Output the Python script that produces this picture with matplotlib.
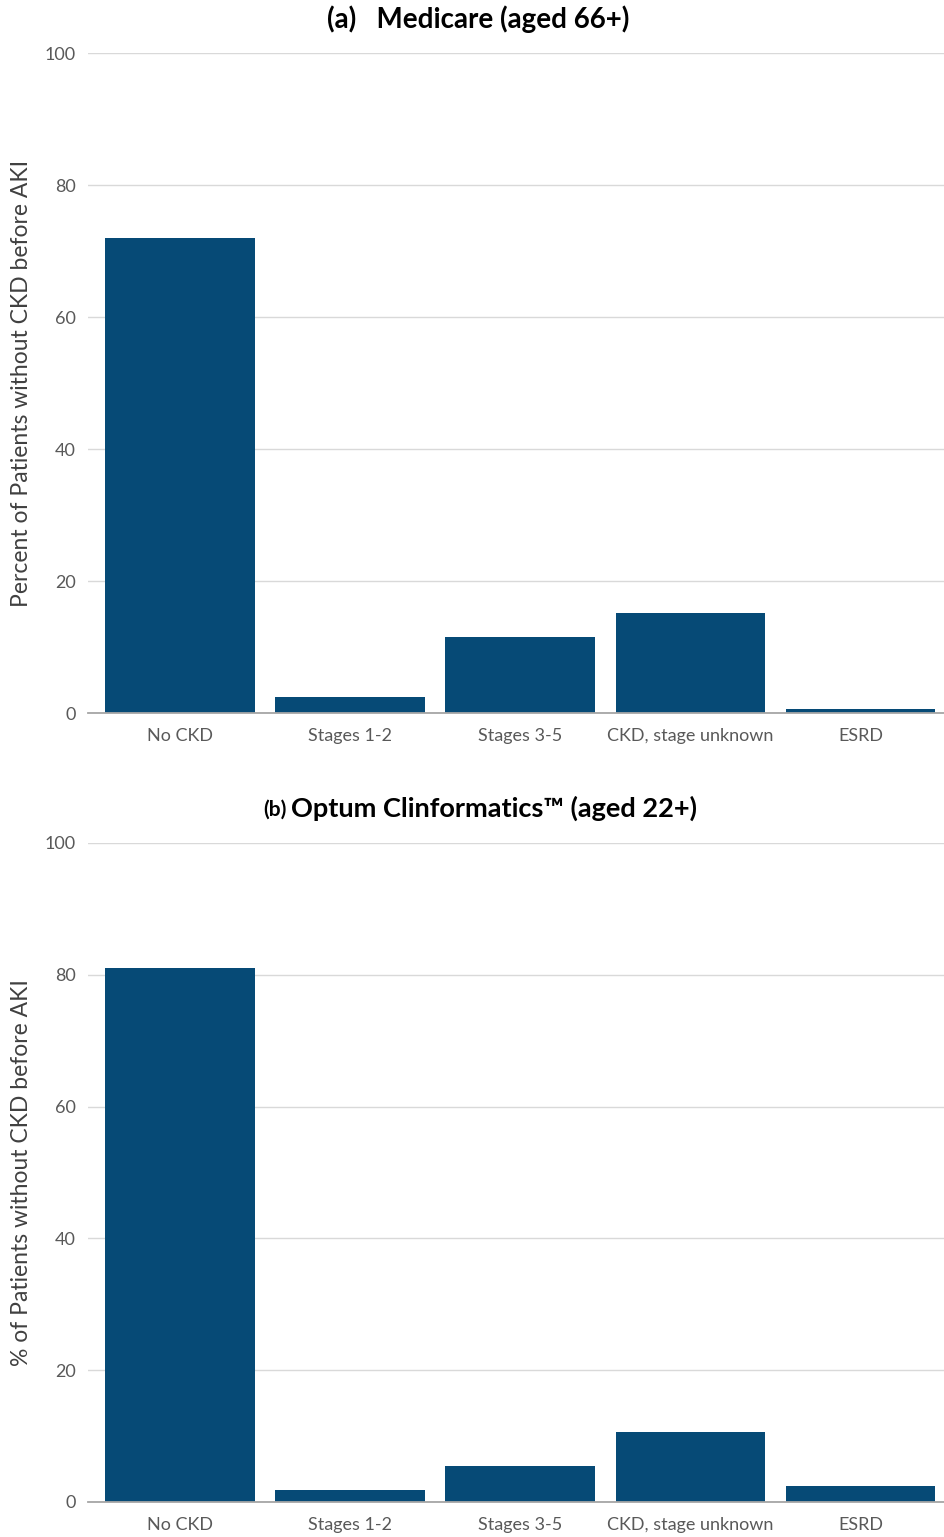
import matplotlib.pyplot as plt

plt.rcParams['font.family'] = ['Lato', 'DejaVu Sans']

categories = ['No CKD', 'Stages 1-2', 'Stages 3-5', 'CKD, stage unknown', 'ESRD']
medicare = [72.0, 2.4, 11.5, 15.2, 0.6]
optum = [81.0, 1.8, 5.5, 10.6, 2.4]
yticks = [0, 20, 40, 60, 80, 100]

bar_color = '#064A76'
W, H = 944, 1537

fig = plt.figure(figsize=(W / 100, H / 100), dpi=100)


def panel(rect, values, ylabel):
    ax = fig.add_axes(rect)
    x = range(len(categories))
    ax.bar(x, values, width=0.88, color=bar_color, zorder=3)
    ax.set_xlim(-0.54, 4.49)
    ax.set_ylim(0, 100)
    ax.set_yticks(yticks)
    ax.set_xticks(list(x))
    ax.set_xticklabels(categories)
    ax.grid(axis='y', color='#d9d9d9', lw=1, zorder=0)
    for s in ['top', 'right', 'left']:
        ax.spines[s].set_visible(False)
    ax.spines['bottom'].set_color('#a6a6a6')
    ax.spines['bottom'].set_linewidth(1.3)
    ax.spines['bottom'].set_zorder(4)
    ax.tick_params(length=0, labelsize=13, labelcolor='#595959')
    ax.tick_params(axis='x', pad=11)
    ax.tick_params(axis='y', pad=9)
    ax.set_ylabel(ylabel, fontsize=16.5, color='#404040')
    ax.yaxis.set_label_coords(-0.065, 0.5)
    return ax


left = 88 / W
width = 856 / W
panel([left, 1 - 713 / H, width, 660 / H], medicare,
      'Percent of Patients without CKD before AKI')
panel([left, 1 - 1502 / H, width, 659 / H], optum,
      '% of Patients without CKD before AKI')

# panel titles
fig.text(478 / W, 1 - 19 / H, '(a)   Medicare (aged 66+)', ha='center', va='center',
         fontsize=20, fontweight='bold', color='black')
fig.text(287 / W, 1 - 810 / H, '(b)', ha='right', va='center',
         fontsize=15, fontweight='bold', color='black')
fig.text(291 / W, 1 - 808 / H, 'Optum Clinformatics™ (aged 22+)', ha='left', va='center',
         fontsize=19.5, fontweight='bold', color='black')

fig.savefig('out.png', dpi=100)
